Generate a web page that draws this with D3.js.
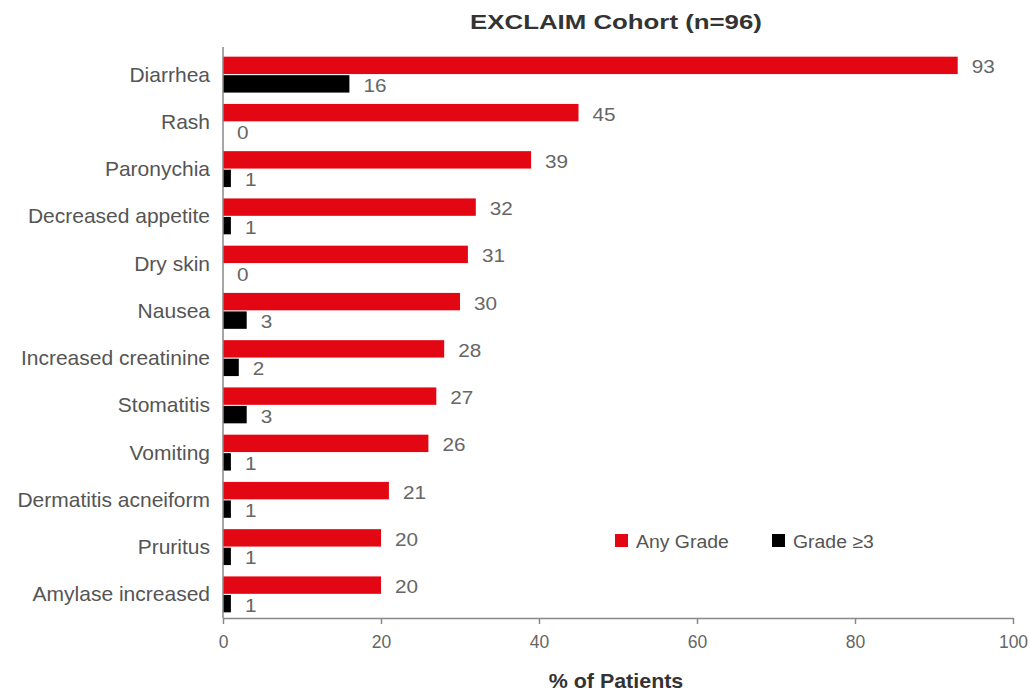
<!DOCTYPE html>
<html>
<head>
<meta charset="utf-8">
<script src="https://cdn.jsdelivr.net/npm/d3@7"></script>
<style>
  html, body { margin: 0; padding: 0; background: #fff; }
  text { font-family: "Liberation Sans", Arial, sans-serif; }
</style>
</head>
<body>
<svg id="chart" width="1030" height="693"></svg>
<script>
// Adverse events, EXCLAIM cohort
const categories = [
  "Diarrhea", "Rash", "Paronychia", "Decreased appetite", "Dry skin", "Nausea",
  "Increased creatinine", "Stomatitis", "Vomiting", "Dermatitis acneiform",
  "Pruritus", "Amylase increased"
];
const anyGrade = [93, 45, 39, 32, 31, 30, 28, 27, 26, 21, 20, 20];
const grade3 = [16, 0, 1, 1, 0, 3, 2, 3, 1, 1, 1, 1];
const xTicks = [0, 20, 40, 60, 80, 100];
const seriesNames = ["Any Grade", "Grade \u22653"];
const seriesColors = ["#e30613", "#000000"];

const svg = d3.select("#chart");
const plotLeft = 223, plotRight = 1013, plotTop = 51, plotBottom = 618;

const x = d3.scaleLinear().domain([0, 100]).range([plotLeft, plotRight]);
const y = d3.scaleBand().domain(categories).range([plotTop, plotBottom]).paddingInner(0.24).paddingOuter(0.12);
const sub = d3.scaleBand().domain([0, 1]).range([0, y.bandwidth()]).paddingInner(0.06);

// Places text at (px, py), widened horizontally by sx
const place = (px, py, sx) => `translate(${px},${py}) scale(${sx},1)`;

// Title
svg.append("text")
  .attr("transform", place(616, 29, 1.26))
  .attr("text-anchor", "middle")
  .attr("font-size", 20.5).attr("font-weight", "bold").attr("fill", "#333")
  .text("EXCLAIM Cohort (n=96)");

const rows = svg.append("g").selectAll("g")
  .data(categories)
  .join("g")
  .attr("transform", d => `translate(0,${y(d)})`);

[anyGrade, grade3].forEach((vals, s) => {
  rows.append("rect")
    .attr("x", x(0))
    .attr("y", sub(s))
    .attr("width", (d, i) => x(vals[i]) - x(0))
    .attr("height", sub.bandwidth())
    .attr("fill", seriesColors[s]);
  rows.append("text")
    .attr("transform", (d, i) => place(x(vals[i]) + 14, sub(s) + sub.bandwidth() / 2 + 8, 1.12))
    .attr("font-size", 18.5).attr("fill", "#666")
    .text((d, i) => vals[i]);
});

// Category labels
rows.append("text")
  .attr("transform", place(plotLeft - 13, y.bandwidth() / 2 + 7, 1.0))
  .attr("text-anchor", "end")
  .attr("font-size", 21).attr("fill", "#555")
  .text(d => d);

// Axes
svg.append("line")
  .attr("x1", plotLeft).attr("x2", plotLeft).attr("y1", 47).attr("y2", plotBottom)
  .attr("stroke", "#888").attr("stroke-width", 1.5);

const xAxis = svg.append("g")
  .attr("transform", `translate(0,${plotBottom})`)
  .call(d3.axisBottom(x).tickValues(xTicks).tickSize(6).tickPadding(12).tickSizeOuter(0));
xAxis.select(".domain").attr("stroke", "#888").attr("stroke-width", 1.5);
xAxis.selectAll(".tick line").attr("stroke", "#888").attr("stroke-width", 1.5);
xAxis.selectAll(".tick text")
  .attr("font-size", 17.5).attr("fill", "#666")
  .style("font-family", "\"Liberation Sans\", Arial, sans-serif");

svg.append("text")
  .attr("transform", place(616, 688, 1.1))
  .attr("text-anchor", "middle")
  .attr("font-size", 19.5).attr("font-weight", "bold").attr("fill", "#333")
  .text("% of Patients");

// Legend
const legendX = [615, 772];
seriesNames.forEach((name, i) => {
  svg.append("rect")
    .attr("x", legendX[i]).attr("y", 534)
    .attr("width", 13).attr("height", 13)
    .attr("fill", seriesColors[i]);
  svg.append("text")
    .attr("transform", place(legendX[i] + 21, 548, 1.05))
    .attr("font-size", 18.5).attr("fill", "#555")
    .text(name);
});
</script>
</body>
</html>
